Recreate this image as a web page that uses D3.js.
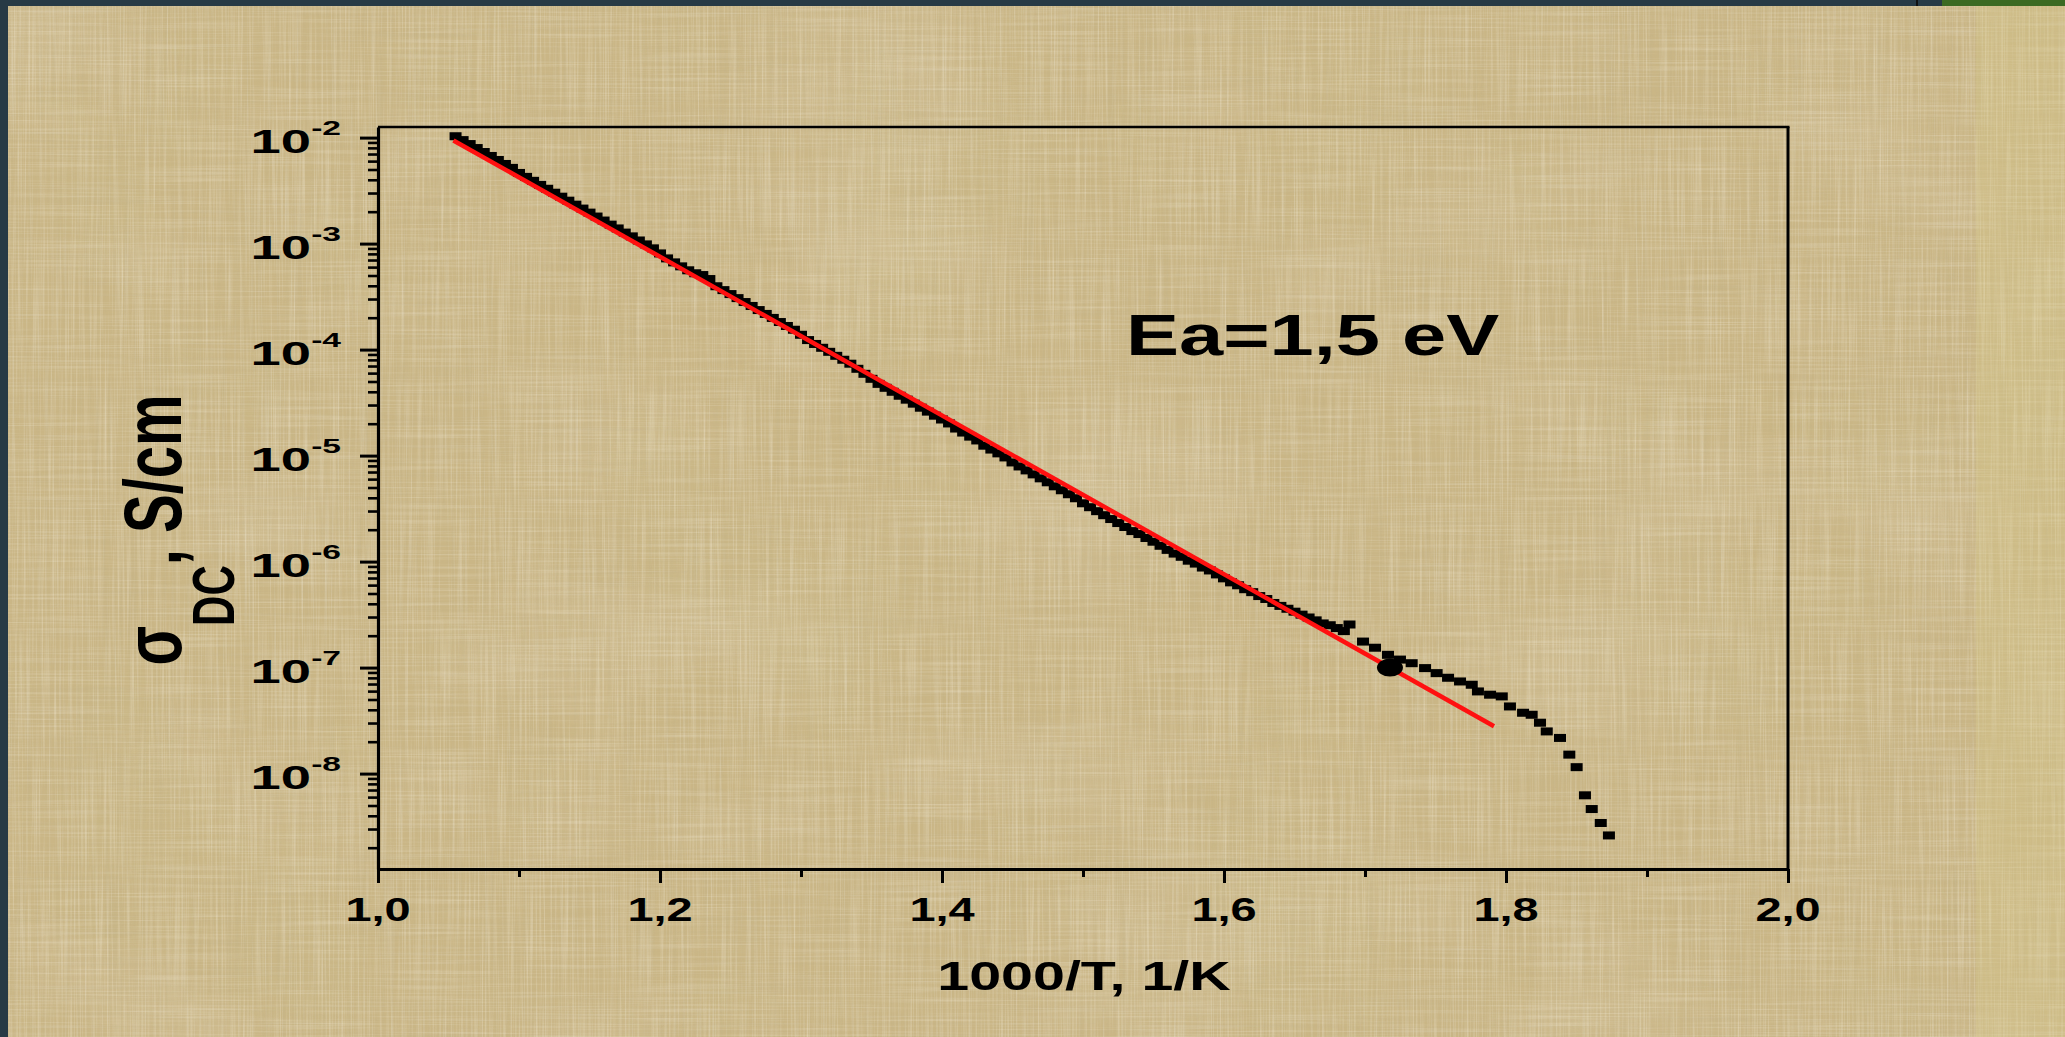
<!DOCTYPE html>
<html>
<head>
<meta charset="utf-8">
<script src="https://cdn.jsdelivr.net/npm/d3@7"></script>
<style>
  html, body { margin: 0; padding: 0; background: #273a45; overflow: hidden; }
  svg { display: block; }
  text { font-family: "Liberation Sans", Arial, sans-serif; font-weight: bold; fill: #000; }
</style>
</head>
<body>
<svg id="chart" width="2065" height="1037"></svg>
<script>
// ---- data -------------------------------------------------------------
const xTickValues = [1.0, 1.2, 1.4, 1.6, 1.8, 2.0];
const xTickLabels = ["1,0", "1,2", "1,4", "1,6", "1,8", "2,0"];
const xMinorValues = [1.1, 1.3, 1.5, 1.7, 1.9];
const yDecadeExponents = [-2, -3, -4, -5, -6, -7, -8];

// measured DC conductivity: 1000/T (1/K) and sigma (S/cm)
const measX = [
  1.055, 1.060, 1.065, 1.070, 1.075, 1.080, 1.085, 1.090, 1.095, 1.100,
  1.105, 1.110, 1.115, 1.120, 1.125, 1.130, 1.135, 1.140, 1.145, 1.150,
  1.155, 1.160, 1.165, 1.170, 1.175, 1.180, 1.185, 1.190, 1.195, 1.200,
  1.205, 1.210, 1.215, 1.220, 1.225, 1.230, 1.235, 1.240, 1.245, 1.250,
  1.255, 1.260, 1.265, 1.270, 1.275, 1.280, 1.285, 1.290, 1.295, 1.300,
  1.305, 1.310, 1.315, 1.320, 1.325, 1.330, 1.335, 1.340, 1.345, 1.350,
  1.355, 1.360, 1.365, 1.370, 1.375, 1.380, 1.385, 1.390, 1.395, 1.400,
  1.405, 1.410, 1.415, 1.420, 1.425, 1.430, 1.435, 1.440, 1.445, 1.450,
  1.455, 1.460, 1.465, 1.470, 1.475, 1.480, 1.485, 1.490, 1.495, 1.500,
  1.505, 1.510, 1.515, 1.520, 1.525, 1.530, 1.535, 1.540, 1.545, 1.550,
  1.555, 1.560, 1.565, 1.570, 1.575, 1.580, 1.585, 1.590, 1.595, 1.600,
  1.605, 1.610, 1.615, 1.620, 1.625, 1.630, 1.635, 1.640, 1.645, 1.650,
  1.655, 1.660, 1.665, 1.670, 1.675, 1.680, 1.685, 1.689, 1.6986, 1.7071,
  1.7163, 1.7248, 1.7331, 1.7426, 1.7508, 1.7589, 1.7674, 1.7757, 1.7801, 1.7887,
  1.7970, 1.8028, 1.8121, 1.8182, 1.8241, 1.8289, 1.8383, 1.8449, 1.8501, 1.8560,
  1.8608, 1.8672, 1.8730
];
const measSigma = [
  1.03e-2, 9.47e-3, 8.69e-3, 7.97e-3, 7.31e-3, 6.71e-3, 6.15e-3, 5.64e-3, 5.18e-3, 4.64e-3,
  4.26e-3, 3.91e-3, 3.58e-3, 3.29e-3, 3.02e-3, 2.77e-3, 2.54e-3, 2.33e-3, 2.14e-3, 1.96e-3,
  1.80e-3, 1.65e-3, 1.51e-3, 1.39e-3, 1.27e-3, 1.17e-3, 1.07e-3, 9.83e-4, 9.02e-4, 8.08e-4,
  7.25e-4, 6.65e-4, 6.10e-4, 5.60e-4, 5.25e-4, 5.05e-4, 4.63e-4, 3.96e-4, 3.64e-4, 3.34e-4,
  3.06e-4, 2.81e-4, 2.58e-4, 2.36e-4, 2.17e-4, 1.99e-4, 1.82e-4, 1.67e-4, 1.54e-4, 1.38e-4,
  1.23e-4, 1.13e-4, 1.04e-4, 9.53e-5, 8.74e-5, 8.02e-5, 7.36e-5, 6.59e-5, 5.91e-5, 5.30e-5,
  4.75e-5, 4.36e-5, 4.00e-5, 3.67e-5, 3.37e-5, 3.09e-5, 2.83e-5, 2.60e-5, 2.38e-5, 2.19e-5,
  2.01e-5, 1.80e-5, 1.65e-5, 1.51e-5, 1.39e-5, 1.24e-5, 1.14e-5, 1.05e-5, 9.61e-6, 8.62e-6,
  7.90e-6, 7.25e-6, 6.65e-6, 6.10e-6, 5.60e-6, 5.13e-6, 4.71e-6, 4.32e-6, 3.96e-6, 3.55e-6,
  3.26e-6, 2.99e-6, 2.74e-6, 2.52e-6, 2.31e-6, 2.12e-6, 1.94e-6, 1.82e-6, 1.67e-6, 1.54e-6,
  1.41e-6, 1.29e-6, 1.19e-6, 1.11e-6, 1.02e-6, 9.58e-7, 8.79e-7, 8.25e-7, 7.57e-7, 6.95e-7,
  6.37e-7, 5.98e-7, 5.49e-7, 5.15e-7, 4.73e-7, 4.44e-7, 4.07e-7, 3.82e-7, 3.59e-7, 3.37e-7,
  3.16e-7, 2.97e-7, 2.79e-7, 2.61e-7, 2.51e-7, 2.36e-7, 2.21e-7, 2.55e-7, 1.76e-7, 1.54e-7,
  1.32e-7, 1.19e-7, 1.10e-7, 9.89e-8, 8.87e-8, 8.02e-8, 7.40e-8, 6.89e-8, 5.96e-8, 5.55e-8,
  5.35e-8, 4.30e-8, 3.75e-8, 3.59e-8, 3.02e-8, 2.50e-8, 2.17e-8, 1.51e-8, 1.15e-8, 6.24e-9,
  4.63e-9, 3.42e-9, 2.61e-9
];

// Arrhenius fit (Ea = 1.5 eV)
const fitX = [1.0535, 1.7915];
const fitSigma = [9.4e-3, 2.8e-8];

// highlighted point
const markX = [1.7177];
const markSigma = [1.0e-7];

const annotationText = "Ea=1,5 eV";
const xTitleText = "1000/T, 1/K";

// ---- canvas -----------------------------------------------------------
const W = 2065, H = 1037;
const svg = d3.select("#chart");
const defs = svg.append("defs");

// parchment texture: faint blotches plus fine woven fibres
function noiseFilter(id, freq, octaves, seed, matrix) {
  const f = defs.append("filter").attr("id", id)
    .attr("x", 0).attr("y", 0).attr("width", W).attr("height", H)
    .attr("filterUnits", "userSpaceOnUse");
  f.append("feTurbulence").attr("type", "fractalNoise")
    .attr("baseFrequency", freq).attr("numOctaves", octaves).attr("seed", seed)
    .attr("result", "n");
  f.append("feColorMatrix").attr("in", "n").attr("type", "matrix").attr("values", matrix);
}
noiseFilter("blotchLight", "0.004 0.007", 3, 4,
  "0 0 0 0 0.90  0 0 0 0 0.83  0 0 0 0 0.72  1.6 0 0 0 -0.80");
noiseFilter("blotchDark", "0.005 0.004", 3, 11,
  "0 0 0 0 0.62  0 0 0 0 0.58  0 0 0 0 0.30  0 1.6 0 0 -0.80");
noiseFilter("fibreV", "0.55 0.008", 2, 7,
  "0 0 0 0 0.95  0 0 0 0 0.91  0 0 0 0 0.80  1.6 0 0 0 -0.70");
noiseFilter("fibreV2", "0.35 0.006", 2, 21,
  "0 0 0 0 0.50  0 0 0 0 0.43  0 0 0 0 0.26  0 1.5 0 0 -0.68");
noiseFilter("fibreH", "0.008 0.55", 2, 3,
  "0 0 0 0 0.95  0 0 0 0 0.91  0 0 0 0 0.80  1.5 0 0 0 -0.68");
noiseFilter("fibreH2", "0.006 0.35", 2, 17,
  "0 0 0 0 0.50  0 0 0 0 0.43  0 0 0 0 0.26  0 1.4 0 0 -0.66");

const bg = svg.append("g");
bg.append("rect").attr("width", W).attr("height", H).attr("fill", "#cab686");
bg.append("rect").attr("width", W).attr("height", H).attr("filter", "url(#blotchLight)").attr("opacity", 0.22);
bg.append("rect").attr("width", W).attr("height", H).attr("filter", "url(#blotchDark)").attr("opacity", 0.18);
bg.append("rect").attr("width", W).attr("height", H).attr("filter", "url(#fibreV)").attr("opacity", 0.45);
bg.append("rect").attr("width", W).attr("height", H).attr("filter", "url(#fibreV2)").attr("opacity", 0.3);
bg.append("rect").attr("width", W).attr("height", H).attr("filter", "url(#fibreH)").attr("opacity", 0.35);
bg.append("rect").attr("width", W).attr("height", H).attr("filter", "url(#fibreH2)").attr("opacity", 0.25);
bg.append("rect").attr("x", 1976).attr("width", W - 1976).attr("height", H)
  .attr("fill", "#dcd08c").attr("opacity", 0.25);

// slide frame edges
bg.append("rect").attr("width", W).attr("height", 6).attr("fill", "#273a45");
bg.append("rect").attr("width", 8).attr("height", H).attr("fill", "#273a45");
bg.append("rect").attr("x", 1942).attr("width", W - 1942).attr("height", 6).attr("fill", "#3b6a22");
bg.append("rect").attr("x", 1916).attr("width", 2).attr("height", 6).attr("fill", "#111");

// ---- scales -----------------------------------------------------------
const x = d3.scaleLinear().domain([1.0, 2.0]).range([378, 1788]);
const y = d3.scaleLog().domain([Math.pow(10, -8.9), Math.pow(10, -1.9)]).range([869, 127]);

const plot = svg.append("g");

// minor log ticks (2..9 x decade) inside the domain
const [yLo, yHi] = y.domain();
const yMinor = [];
for (let e = -9; e <= -2; e++) {
  for (let k = 2; k <= 9; k++) {
    const v = k * Math.pow(10, e);
    if (v > yLo && v < yHi) yMinor.push(v);
  }
}
const yMajor = yDecadeExponents.map(e => Math.pow(10, e));

// ---- axes -------------------------------------------------------------
function styleAxis(g, w) {
  g.selectAll("path.domain").attr("stroke", "#000").attr("stroke-width", w);
  g.selectAll(".tick line").attr("stroke", "#000");
  g.selectAll(".tick text").remove();
}

const gxMinor = plot.append("g").attr("transform", `translate(0,${y.range()[0]})`)
  .call(d3.axisBottom(x).tickValues(xMinorValues).tickSize(8).tickSizeOuter(0).tickFormat(""));
styleAxis(gxMinor, 0);
gxMinor.selectAll(".tick line").attr("stroke-width", 3);
gxMinor.select("path.domain").remove();

const gx = plot.append("g").attr("transform", `translate(0,${y.range()[0]})`)
  .call(d3.axisBottom(x).tickValues(xTickValues).tickSize(14).tickSizeOuter(0).tickFormat(""));
styleAxis(gx, 3.2);
gx.selectAll(".tick line").attr("stroke-width", 3);

const gyMinor = plot.append("g").attr("transform", `translate(${x.range()[0]},0)`)
  .call(d3.axisLeft(y).tickValues(yMinor).tickSize(10).tickSizeOuter(0).tickFormat(""));
styleAxis(gyMinor, 0);
gyMinor.selectAll(".tick line").attr("stroke-width", 2.6);
gyMinor.select("path.domain").remove();

const gy = plot.append("g").attr("transform", `translate(${x.range()[0]},0)`)
  .call(d3.axisLeft(y).tickValues(yMajor).tickSize(18).tickSizeOuter(0).tickFormat(""));
styleAxis(gy, 3.2);
gy.selectAll(".tick line").attr("stroke-width", 3);

// top and right frame
plot.append("line").attr("x1", x.range()[0]).attr("x2", x.range()[1] + 1.5)
  .attr("y1", y.range()[1]).attr("y2", y.range()[1])
  .attr("stroke", "#000").attr("stroke-width", 2.5);
plot.append("line").attr("x1", x.range()[1]).attr("x2", x.range()[1])
  .attr("y1", y.range()[1]).attr("y2", y.range()[0])
  .attr("stroke", "#000").attr("stroke-width", 3);

// x tick labels
plot.append("g").selectAll("text").data(xTickValues).join("text")
  .attr("transform", d => `translate(${x(d)},921) scale(1.38,1)`)
  .attr("text-anchor", "middle")
  .attr("font-size", 34)
  .text((d, i) => xTickLabels[i]);

// y tick labels 10^n
const yl = plot.append("g").selectAll("text").data(yDecadeExponents).join("text")
  .attr("transform", e => `translate(341,${y(Math.pow(10, e)) + 15}) scale(1.6,1)`)
  .attr("text-anchor", "end")
  .attr("font-size", 34);
yl.append("tspan").text("10");
yl.append("tspan").attr("font-size", 21).attr("dy", -18).text(e => String(e));

// axis titles
const yt = plot.append("text")
  .attr("transform", "translate(181,530) scale(1.4,1) rotate(-90)")
  .attr("text-anchor", "middle")
  .attr("font-size", 58);
yt.append("tspan").text("σ");
yt.append("tspan").attr("font-size", 42).attr("dy", 38).text("DC");
yt.append("tspan").attr("dy", -38).text(", S/cm");

plot.append("text")
  .attr("transform", "translate(1084,990) scale(1.4,1)")
  .attr("text-anchor", "middle")
  .attr("font-size", 41)
  .text(xTitleText);

// annotation
plot.append("text")
  .attr("transform", "translate(1126,355) scale(1.37,1)")
  .attr("font-size", 58)
  .text(annotationText);

// ---- marks ------------------------------------------------------------
const meas = measX.map((v, i) => ({ x: v, s: measSigma[i] }));
plot.append("g").selectAll("rect").data(meas).join("rect")
  .attr("x", d => x(d.x) - 6).attr("y", d => y(d.s) - 4)
  .attr("width", 12).attr("height", 8)
  .attr("fill", "#000");

const fit = fitX.map((v, i) => ({ x: v, s: fitSigma[i] }));
plot.append("path").datum(fit)
  .attr("d", d3.line().x(d => x(d.x)).y(d => y(d.s)))
  .attr("fill", "none").attr("stroke", "#ff1010").attr("stroke-width", 4.5);

const mark = markX.map((v, i) => ({ x: v, s: markSigma[i] }));
plot.append("g").selectAll("ellipse").data(mark).join("ellipse")
  .attr("cx", d => x(d.x)).attr("cy", d => y(d.s))
  .attr("rx", 13).attr("ry", 9).attr("fill", "#000");
</script>
</body>
</html>
